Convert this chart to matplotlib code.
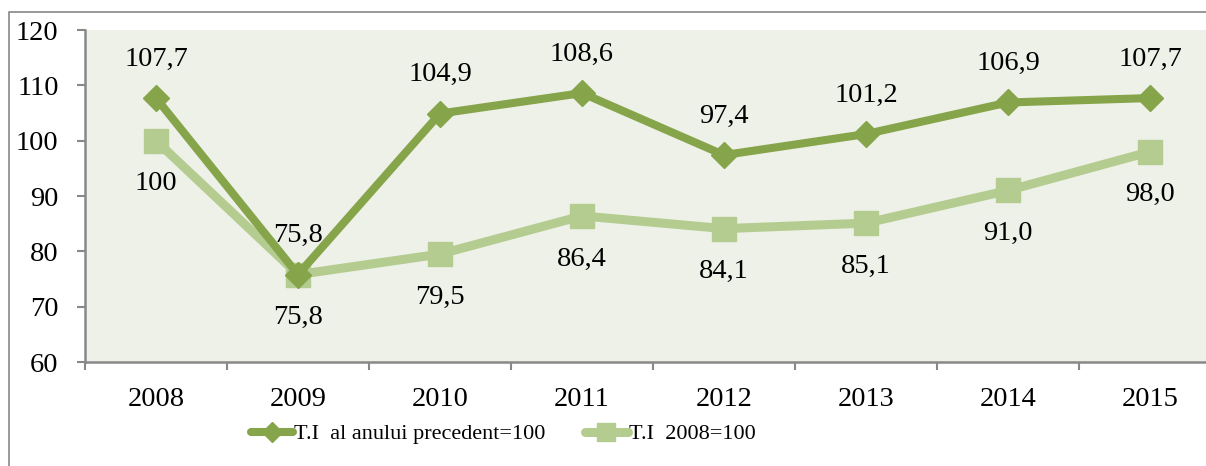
import matplotlib.pyplot as plt
from matplotlib.patches import Rectangle

years = ['2008', '2009', '2010', '2011', '2012', '2013', '2014', '2015']
prev_year = [107.7, 75.8, 104.9, 108.6, 97.4, 101.2, 106.9, 107.7]
base_2008 = [100, 75.8, 79.5, 86.4, 84.1, 85.1, 91.0, 98.0]
prev_labels = ['107,7', '75,8', '104,9', '108,6', '97,4', '101,2', '106,9', '107,7']
base_labels = ['100', '75,8', '79,5', '86,4', '84,1', '85,1', '91,0', '98,0']

plt.rcParams['font.family'] = ['Liberation Serif', 'DejaVu Serif']
fs = 20.5

fig = plt.figure(figsize=(12.06, 4.66), dpi=100)
W, H = 1206, 466
ax = fig.add_axes([85 / W, (H - 362) / H, 1136 / W, (362 - 30) / H])
ax.set_facecolor('#EEF1E8')

dark = '#86A44A'
light = '#B5CC90'
x = list(range(len(years)))

ax.plot(x, base_2008, color=light, lw=6.5, marker='s', markersize=17,
        solid_capstyle='round', label='T.I  2008=100', zorder=3)
ax.plot(x, prev_year, color=dark, lw=5.8, marker='D', markersize=13,
        solid_capstyle='round', label='T.I  al anului precedent=100', zorder=4)

for xi, v, t in zip(x, prev_year, prev_labels):
    ax.annotate(t, (xi, v), xytext=(0, 28), textcoords='offset points',
                ha='center', va='center', fontsize=fs)
for xi, v, t in zip(x, base_2008, base_labels):
    ax.annotate(t, (xi, v), xytext=(0, -31), textcoords='offset points',
                ha='center', va='center', fontsize=fs)

ax.set_xlim(-0.5, 7.5)
ax.set_ylim(60, 120)
ax.set_yticks(range(60, 121, 10))
ax.set_xticks([i - 0.5 for i in range(len(years) + 1)])
ax.set_xticklabels([])
ax.set_xticks(x, minor=True)
ax.set_xticklabels(years, minor=True)
ax.tick_params(axis='x', which='minor', length=0, pad=18, labelsize=fs)
ax.tick_params(axis='x', which='major', length=6, width=1.5, color='#888888', direction='out')
ax.tick_params(axis='y', length=6, width=1.5, color='#888888', pad=13, labelsize=fs)

for s in ['top', 'right']:
    ax.spines[s].set_visible(False)
for s in ['left', 'bottom']:
    ax.spines[s].set_color('#888888')
    ax.spines[s].set_linewidth(1.8)

handles, labels = ax.get_legend_handles_labels()
leg = fig.legend(handles[::-1], labels[::-1], loc='center', bbox_to_anchor=(503 / W, 1 - 434 / H),
                 ncol=2, frameon=False, fontsize=16, handlelength=1.9, handletextpad=0.05,
                 columnspacing=1.8, markerscale=0.8)

fig.patches.append(Rectangle((9 / W, -0.1), 1.2, 1 - 12 / H + 0.1, transform=fig.transFigure,
                             fill=False, edgecolor='#888888', lw=1.2))

fig.savefig('out.png', dpi=100)
